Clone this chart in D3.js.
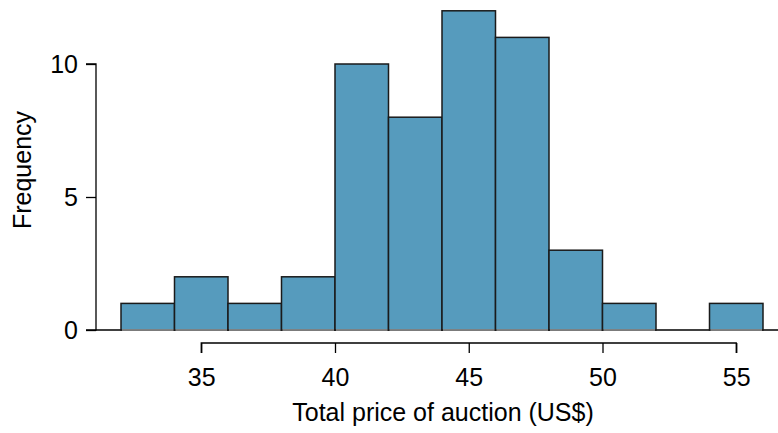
<!DOCTYPE html>
<html><head><meta charset="utf-8">
<script src="https://cdn.jsdelivr.net/npm/d3@7"></script>
<style>body{margin:0;background:#fff}svg{display:block}text{font-family:"Liberation Sans",Arial,Helvetica,sans-serif;fill:#000}</style>
</head><body>
<script>
const binStarts = [32,34,36,38,40,42,44,46,48,50,52,54];
const binWidth = 2;
const counts = [1,2,1,2,10,8,12,11,3,1,0,1];
const xTicks = [35,40,45,50,55];
const yTicks = [0,5,10];

const W = 778, H = 433;
const FS = "25px";
const svg = d3.select("body").append("svg").attr("width", W).attr("height", H);
const x = d3.scaleLinear().domain([32,56]).range([121,763]);
const y = d3.scaleLinear().domain([0,10]).range([330,64]);
const bins = binStarts.map((s,i)=>({x0:s,x1:s+binWidth,n:counts[i]}));

// baseline
svg.append("line").attr("x1",96).attr("x2",W).attr("y1",y(0)).attr("y2",y(0))
  .attr("stroke","#000").attr("stroke-width",1.3);

svg.selectAll("rect.bar").data(bins).join("rect").attr("class","bar")
  .attr("x",d=>x(d.x0)).attr("width",d=>x(d.x1)-x(d.x0))
  .attr("y",d=>y(d.n)).attr("height",d=>y(0)-y(d.n))
  .attr("fill","#569BBD").attr("stroke","#1a1a1a").attr("stroke-width",1.5);

svg.selectAll("line.bot").data(bins.filter(d=>d.n>0)).join("line").attr("class","bot")
  .attr("x1",d=>x(d.x0)+1).attr("x2",d=>x(d.x1)-1).attr("y1",y(0)).attr("y2",y(0))
  .attr("stroke","#9a9a9a").attr("stroke-width",1.5);

// y axis
const ya = svg.append("g").attr("transform","translate(96,0)")
  .call(d3.axisLeft(y).tickValues(yTicks).tickSize(10).tickPadding(8).tickFormat(d3.format("d")));
ya.select(".domain").attr("d",`M-10,${y(10)}H0V${y(0)}H-10`).attr("stroke","#000").attr("stroke-width",1.3);
ya.selectAll(".tick line").attr("stroke","#000").attr("stroke-width",1.3);
ya.selectAll(".tick text").style("font-size",FS).attr("fill","#000");

// x axis
const xa = svg.append("g").attr("transform","translate(0,343)")
  .call(d3.axisBottom(x).tickValues(xTicks).tickSize(10).tickPadding(15));
xa.select(".domain").attr("d",`M${x(35)},10V0H${x(55)}V10`).attr("stroke","#000").attr("stroke-width",1.3);
xa.selectAll(".tick line").attr("stroke","#000").attr("stroke-width",1.3);
xa.selectAll(".tick text").style("font-size",FS).attr("fill","#000");

svg.append("text").attr("x",443).attr("y",421).attr("text-anchor","middle")
  .style("font-size",FS).text("Total price of auction (US$)");
svg.append("text").attr("transform","translate(31,170) rotate(-90)").attr("text-anchor","middle")
  .style("font-size",FS).text("Frequency");
</script>
</body></html>
